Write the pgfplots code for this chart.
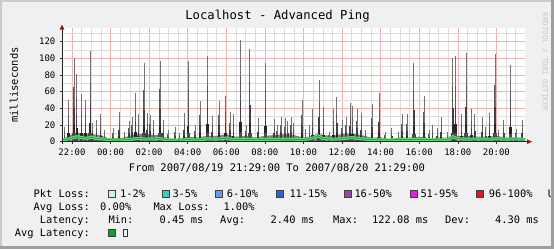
\documentclass[border=0pt]{standalone}
\usepackage{pgfplots}
\pgfplotsset{compat=1.18}
\usepackage{pgfplotstable}
\usepackage{fontspec}
\setmainfont{DejaVu Sans Mono}

\definecolor{bgc}{HTML}{F0F0F0}
\definecolor{shadea}{HTML}{CBCBCB}
\definecolor{shadeb}{HTML}{9E9E9E}
\definecolor{mgrid}{HTML}{F2B0B0}
\definecolor{grd}{HTML}{DCDCDC}
\definecolor{arrowred}{HTML}{A01818}
\definecolor{medgreen}{HTML}{18B040}
\definecolor{glowgreen}{HTML}{6ADC80}
\definecolor{lossA}{HTML}{CCF2F2}
\definecolor{lossB}{HTML}{40C8C8}
\definecolor{lossC}{HTML}{6C9CE8}
\definecolor{lossD}{HTML}{2F5FD8}
\definecolor{lossE}{HTML}{8E4C9E}
\definecolor{lossF}{HTML}{E71CE7}
\definecolor{lossG}{HTML}{D8192B}
\definecolor{avglat}{HTML}{10A030}
\definecolor{wmark}{HTML}{CACACA}

\newcommand{\fs}[1]{\fontsize{#1}{#1}\selectfont}

% t = hours (24 = 00:00 next day); hi = max ping of the slot; a,b,c,d = smoke levels
\pgfplotstableread{
t hi a b c d
21.62 18 12 7 4 2
21.82 50 32 20 10 5
22.105 101 66 40 20 10
22.245 81 53 32 16 8
22.50 57 37 23 11 6
22.70 50 32 20 10 5
22.95 109 71 44 22 11
23.05 22 14 9 4 2
23.28 26 17 10 5 3
23.49 33 21 13 7 3
23.70 14 9 6 3 2
24.125 16 10 6 3 2
24.44 36 23 14 7 4
24.70 12 8 5 3 2
24.955 25 16 10 5 3
25.11 30 20 12 6 3
25.29 59 38 24 12 6
25.45 33 21 13 7 3
25.73 95 62 38 19 10
25.90 35 23 14 7 4
26.04 32 21 13 6 3
26.22 26 17 10 5 3
26.56 97 63 39 19 10
26.73 26 17 10 5 3
26.975 14 9 6 3 2
27.34 18 12 7 4 2
27.55 10 7 4 2 1
27.82 35 23 14 7 4
28.03 97 63 39 19 10
28.37 20 13 8 4 2
28.63 49 32 20 10 5
29.03 103 67 41 21 10
29.27 31 20 12 6 3
29.62 49 32 20 10 5
29.965 55 36 22 11 6
30.19 36 23 14 7 4
30.36 33 21 13 7 3
30.74 122.08 79 49 24 12
31.02 20 13 8 4 2
31.22 111 72 44 22 11
31.65 29 19 12 6 3
32.03 95 62 38 19 10
32.48 27 18 11 5 3
32.62 20 13 8 4 2
32.83 30 20 12 6 3
33.04 28 18 11 6 3
33.19 25 16 10 5 3
33.35 30 20 12 6 3
33.49 22 14 9 4 2
33.92 50 32 20 10 5
34.10 15 10 6 3 2
34.30 20 13 8 4 2
34.47 39 25 16 8 4
34.815 74 48 30 15 7
35.04 42 27 17 8 4
35.32 12 8 5 2 1
35.56 39 25 16 8 4
35.73 54 35 22 11 5
35.99 26 17 10 5 3
36.20 30 20 12 6 3
36.42 47 31 19 9 5
36.545 43 28 17 9 4
36.77 39 25 16 8 4
36.99 35 23 14 7 4
37.20 14 9 6 3 2
37.545 45 29 18 9 5
37.92 59 38 24 12 6
38.22 12 8 5 2 1
38.58 17 11 7 3 2
38.90 12 8 5 2 1
39.10 33 21 13 7 3
39.36 33 21 13 7 3
39.72 94 61 38 19 9
40.24 55 36 22 11 6
40.50 14 9 6 3 2
40.70 20 13 8 4 2
40.93 17 11 7 3 2
41.14 30 20 12 6 3
41.48 12 8 5 2 1
41.74 101 66 40 20 10
41.88 103 67 41 21 10
42.19 33 21 13 7 3
42.43 106 69 42 21 11
42.71 39 25 16 8 4
42.88 33 21 13 7 3
43.26 30 20 12 6 3
43.45 18 12 7 4 2
43.64 35 23 14 7 4
43.92 105 68 42 21 11
44.10 14 9 6 3 2
44.385 26 17 10 5 3
44.73 92 60 37 18 9
45.01 15 10 6 3 2
45.33 26 17 10 5 3
}\spikes

\begin{document}
\begin{tikzpicture}[x=1bp,y=1bp]
\fill[bgc] (0,0) rectangle (554,249);
\useasboundingbox (0,0) rectangle (554,249);
\fill[white] (62,107.3) rectangle (525,220.6);

\begin{axis}[
  at={(62bp,107.3bp)}, anchor=south west,
  scale only axis, width=463bp, height=113.3bp,
  xmin=21.4833, xmax=45.4833, ymin=0, ymax=136,
  axis lines=left, axis line style={draw=none},
  xtick={22,24,...,44},
  xticklabels={22:00,00:00,02:00,04:00,06:00,08:00,10:00,12:00,14:00,16:00,18:00,20:00},
  minor xtick={21.5,22,...,45},
  ytick={0,20,...,120},
  minor ytick={0,10,...,130},
  grid=both,
  major grid style={mgrid, line width=0.5bp},
  minor grid style={grd, line width=0.5bp},
  tick style={black!80, line width=0.5bp},
  tick align=outside,
  major tick length=2.5bp, minor tick length=0bp,
  tick label style={font=\fs{9}, inner sep=0pt},
  xticklabel style={yshift=-4bp},
  yticklabel style={xshift=-4bp},
  /pgf/number format/assume math mode=true,
  clip=true,
]
\addplot[draw=none, fill=black!50] coordinates {
(21.483,3) (21.75,6) (22,9) (22.25,11) (22.5,10) (22.75,9) (23,10) (23.25,8) (23.5,8) (23.75,5) (24,4) (24.5,4) (25,7) (25.25,9) (25.5,9) (25.75,10) (26,9) (26.25,8) (26.5,8) (26.75,6) (27,4) (27.5,3) (28,6) (28.5,5) (29,7) (29.5,7) (30,9) (30.25,7) (30.5,6) (31,7) (31.5,5) (32,7) (32.5,8) (33,9) (33.5,8) (34,5) (34.5,7) (34.75,10) (35,8) (35.5,7) (36,9) (36.5,10) (37,8) (37.5,5) (38,5) (38.5,3) (39,5) (39.5,5) (40,6) (40.5,4) (41,5) (41.5,5) (41.75,9) (42,7) (42.5,7) (43,6) (43.5,6) (44,7) (44.5,5) (45,5) (45.483,3)
} \closedcycle;
\addplot[ycomb, draw=black!55, line width=0.7bp] table[x=t,y=hi]{\spikes};
\addplot[ycomb, draw=black!65, line width=1.0bp] table[x=t,y=a]{\spikes};
\addplot[ycomb, draw=black!75, line width=1.5bp] table[x=t,y=b]{\spikes};
\addplot[ycomb, draw=black!85, line width=2.3bp] table[x=t,y=c]{\spikes};
\addplot[ycomb, draw=black!70, line width=3.6bp] table[x=t,y=d]{\spikes};
\addplot[glowgreen, line width=3bp] coordinates {
(21.483,2.5) (21.75,3) (22,4.5) (22.25,6) (22.5,5) (22.75,4) (23,5.5) (23.25,4) (23.5,3.5) (23.75,3) (24,2.2) (24.5,2) (25,2.5) (25.25,3.5) (25.5,4) (25.75,3) (26,3.5) (26.25,3) (26.5,4) (26.75,3) (27,2.2) (27.5,2) (28,2.5) (28.5,2.2) (29,3.5) (29.5,3) (30,4.5) (30.25,3) (30.5,2.5) (31,3) (31.5,2.5) (32,3) (32.5,2.5) (33,3.2) (33.5,3) (34,2.5) (34.5,4.5) (34.75,7) (35,4) (35.5,3) (36,3.5) (36.5,5) (37,3.5) (37.5,2.5) (38,2.2) (38.5,2.2) (39,3) (39.5,2.5) (40,2.8) (40.5,2.5) (41,2.2) (41.5,2.5) (41.75,6) (42,3.5) (42.5,3) (43,3.5) (43.5,3) (44,3.5) (44.5,3) (45,3.5) (45.483,3)
};
\addplot[medgreen, line width=1bp] coordinates {
(21.483,2.5) (21.75,3) (22,4.5) (22.25,6) (22.5,5) (22.75,4) (23,5.5) (23.25,4) (23.5,3.5) (23.75,3) (24,2.2) (24.5,2) (25,2.5) (25.25,3.5) (25.5,4) (25.75,3) (26,3.5) (26.25,3) (26.5,4) (26.75,3) (27,2.2) (27.5,2) (28,2.5) (28.5,2.2) (29,3.5) (29.5,3) (30,4.5) (30.25,3) (30.5,2.5) (31,3) (31.5,2.5) (32,3) (32.5,2.5) (33,3.2) (33.5,3) (34,2.5) (34.5,4.5) (34.75,7) (35,4) (35.5,3) (36,3.5) (36.5,5) (37,3.5) (37.5,2.5) (38,2.2) (38.5,2.2) (39,3) (39.5,2.5) (40,2.8) (40.5,2.5) (41,2.2) (41.5,2.5) (41.75,6) (42,3.5) (42.5,3) (43,3.5) (43.5,3) (44,3.5) (44.5,3) (45,3.5) (45.483,3)
};
\end{axis}

% axes with arrows
\draw[black!85, line width=0.8bp] (62,105.5) -- (62,221);
\draw[black!85, line width=0.8bp] (59.5,107.3) -- (527,107.3);
\fill[arrowred] (527,104.9) -- (532,107.3) -- (527,109.7) -- cycle;
\fill[arrowred] (59.6,219.5) -- (62,224.5) -- (64.4,219.5) -- cycle;

% title and labels
\node[anchor=base, font=\fs{12.3}, inner sep=0pt] at (277.5,229.5) {Localhost - Advanced Ping};
\node[rotate=90, font=\fs{10.5}, inner sep=0pt] at (14,164) {milliseconds};
\node[anchor=base, font=\fs{10.5}, inner sep=0pt] at (277,77.5) {From 2007/08/19 21:29:00 To 2007/08/20 21:29:00};
\node[rotate=-90, font=\fs{7.5}, text=wmark, inner sep=0pt] at (545,187) {RRDTOOL / TOBI OETIKER};

% legend
\begin{scope}[every node/.style={font=\fs{10.4}, inner sep=0pt}]
\node[anchor=base east] at (90,51.5) {Pkt Loss:};
\filldraw[fill=lossA, draw=black!75, line width=0.6bp] (108.5,51.7) rectangle +(7,6.8);
\node[anchor=base west] at (120,51.5) {1-2\%};
\filldraw[fill=lossB, draw=black!75, line width=0.6bp] (161.8,51.7) rectangle +(7,6.8);
\node[anchor=base west] at (172.3,51.5) {3-5\%};
\filldraw[fill=lossC, draw=black!75, line width=0.6bp] (215,51.7) rectangle +(7,6.8);
\node[anchor=base west] at (226.7,51.5) {6-10\%};
\filldraw[fill=lossD, draw=black!75, line width=0.6bp] (276,51.7) rectangle +(7,6.8);
\node[anchor=base west] at (289.3,51.5) {11-15\%};
\filldraw[fill=lossE, draw=black!75, line width=0.6bp] (343.8,51.7) rectangle +(7,6.8);
\node[anchor=base west] at (354.3,51.5) {16-50\%};
\filldraw[fill=lossF, draw=black!75, line width=0.6bp] (410.3,51.7) rectangle +(7,6.8);
\node[anchor=base west] at (420.3,51.5) {51-95\%};
\filldraw[fill=lossG, draw=black!75, line width=0.6bp] (476.4,51.7) rectangle +(7,6.8);
\node[anchor=base west] at (488.7,51.5) {96-100\%};
\node[anchor=base west] at (547.7,51.5) {U};

\node[anchor=base east] at (90,38.5) {Avg Loss:};
\node[anchor=base west] at (100,38.5) {0.00\%};
\node[anchor=base west] at (153.3,38.5) {Max Loss:};
\node[anchor=base west] at (223.3,38.5) {1.00\%};

\node[anchor=base east] at (90,25.5) {Latency:};
\node[anchor=base west] at (108.3,25.5) {Min:};
\node[anchor=base west] at (159.5,25.5) {0.45 ms};
\node[anchor=base west] at (220,25.5) {Avg:};
\node[anchor=base west] at (270.5,25.5) {2.40 ms};
\node[anchor=base west] at (333,25.5) {Max:};
\node[anchor=base west] at (372,25.5) {122.08 ms};
\node[anchor=base west] at (445,25.5) {Dev:};
\node[anchor=base west] at (495,25.5) {4.30 ms};

\node[anchor=base east] at (90,13) {Avg Latency:};
\filldraw[fill=avglat, draw=black!75, line width=0.6bp] (108.5,13.2) rectangle +(7,6.8);
\draw[black!80, line width=0.6bp] (122.8,12.3) rectangle (127.3,19.7);
\end{scope}

% 3D border
\fill[shadea] (0,0) rectangle (2,249);
\fill[shadea] (0,247) rectangle (554,249);
\fill[shadeb] (551,0) rectangle (554,249);
\fill[shadeb] (0,0) rectangle (554,3);
\end{tikzpicture}
\end{document}
